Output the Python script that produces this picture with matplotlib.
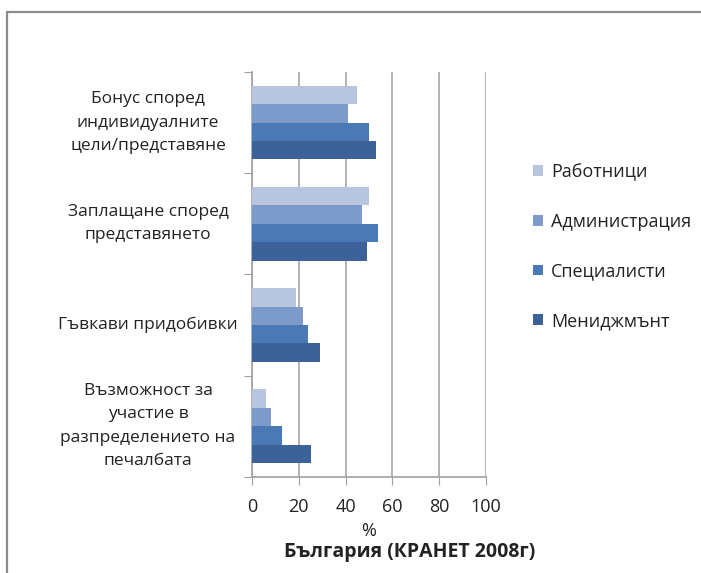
import matplotlib
matplotlib.use("Agg")
import matplotlib.pyplot as plt
from matplotlib.patches import Rectangle
from matplotlib.transforms import blended_transform_factory
import numpy as np

plt.rcParams['font.family'] = ['Open Sans', 'DejaVu Sans']

categories = [
    "Бонус според\nиндивидуалните\nцели/представяне",
    "Заплащане според\nпредставянето",
    "Гъвкави придобивки",
    "Възможност за\nучастие в\nразпределението на\nпечалбата",
]
series_names = ["Работници", "Администрация", "Специалисти", "Мениджмънт"]
rabotnici = [45, 50, 19, 6]
administracia = [41, 47, 22, 8]
specialisti = [50, 54, 24, 13]
menidzhmant = [53, 49, 29, 25]
xticks = [0, 20, 40, 60, 80, 100]

series_values = [rabotnici, administracia, specialisti, menidzhmant]
colors = ["#B7C5E0", "#7D9BCA", "#4A79B5", "#3C6299"]
text_col = "#222222"

fig = plt.figure(figsize=(7.01, 5.73), dpi=100)
ax = fig.add_axes([252 / 701, 1 - 476.7 / 573, (486 - 252) / 701, (476.7 - 72) / 573])

n_cat = len(categories)
bar_h = 0.182
y_centers = np.arange(n_cat)
for i, (name, vals, col) in enumerate(zip(series_names, series_values, colors)):
    offs = (i - 1.5) * bar_h
    ax.barh(y_centers + offs, vals, height=bar_h, color=col, label=name,
            edgecolor='none', zorder=3)

ax.set_xlim(0, 100)
ax.set_ylim(n_cat - 0.5, -0.5)
ax.set_xticks(xticks)
ax.set_xticklabels([str(v) for v in xticks], fontsize=13, color=text_col)
ax.tick_params(axis='x', length=6, color="#A0A0A0", pad=9)
ax.set_yticks(np.arange(-0.5, n_cat, 1.0))
ax.set_yticklabels([])
ax.tick_params(axis='y', length=6, color="#A0A0A0")
ax.grid(axis='x', color="#A6A6A6", linewidth=1.2, zorder=0)
for s in ['top', 'right']:
    ax.spines[s].set_visible(False)
for s in ['left', 'bottom']:
    ax.spines[s].set_color("#A0A0A0")
    ax.spines[s].set_linewidth(1.2)

# category names, centred in the space left of the axis
label_tr = blended_transform_factory(fig.transFigure, ax.transData)
for y, lab in zip(y_centers, categories):
    ax.text(148 / 701, y, lab, transform=label_tr,
            ha='center', va='center', fontsize=12.5, linespacing=1.62, color=text_col)

ax.set_xlabel("%", fontsize=13, color=text_col, labelpad=5)
fig.text(410 / 701, 1 - 552 / 573, "България (КРАНЕТ 2008г)", ha='center', va='center',
         fontsize=14, fontweight='bold', color=text_col)

handles, labels = ax.get_legend_handles_labels()
leg = fig.legend(handles, labels, loc='upper left', bbox_to_anchor=(517 / 701, 1 - 147 / 573),
                 frameon=False, fontsize=13, labelspacing=1.75, handlelength=0.55,
                 handleheight=0.55, handletextpad=0.45)
for t in leg.get_texts():
    t.set_color(text_col)

frame = Rectangle((7 / 701, -0.1), 1.2, 1 - 12 / 573 + 0.1, transform=fig.transFigure,
                  fill=False, edgecolor="#8C8C8C", linewidth=1.6, clip_on=False)
fig.add_artist(frame)

fig.savefig("out.png", dpi=100)
